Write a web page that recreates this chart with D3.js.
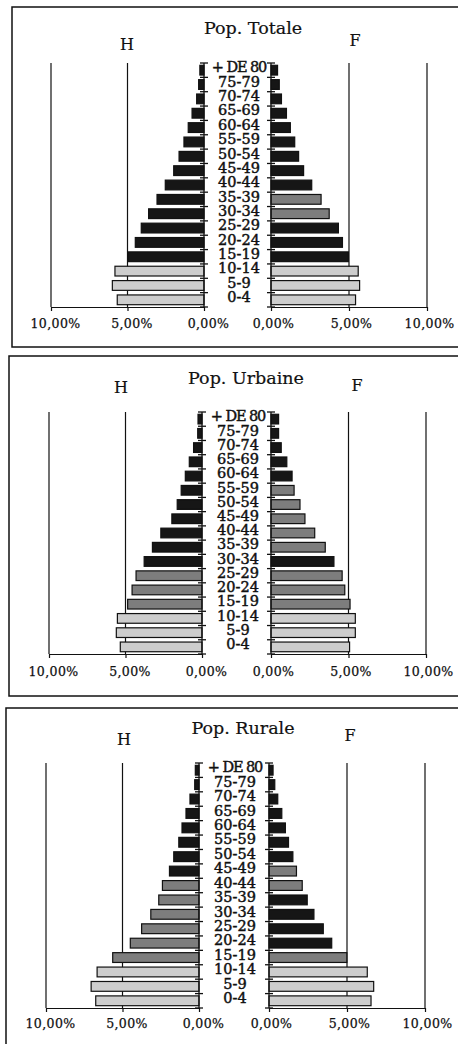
<!DOCTYPE html>
<html><head><meta charset="utf-8">
<script src="https://cdn.jsdelivr.net/npm/d3@7"></script>
<style>
html,body{margin:0;padding:0;background:#fff;}
svg{display:block;}
text{font-family:"DejaVu Serif","Liberation Serif",serif;fill:#111;}
</style></head>
<body>
<svg id="chart" width="458" height="1044"></svg>
<script>
// ---- data ----
const ages = ["+ DE 80","75-79","70-74","65-69","60-64","55-59","50-54","45-49","40-44","35-39","30-34","25-29","20-24","15-19","10-14","5-9","0-4"];
const titles = ["Pop. Totale","Pop. Urbaine","Pop. Rurale"];
const sexLabels = ["H","F"];
const tickValues = [0,5,10];

const totH = [0.27,0.35,0.48,0.78,1.03,1.31,1.63,1.98,2.53,3.07,3.62,4.10,4.49,4.97,5.82,5.99,5.67];
const totF = [0.42,0.53,0.67,0.99,1.24,1.52,1.77,2.09,2.61,3.21,3.73,4.32,4.58,4.96,5.59,5.68,5.42];
const urbH = [0.26,0.28,0.55,0.83,1.09,1.36,1.62,1.97,2.69,3.24,3.78,4.31,4.57,4.86,5.53,5.60,5.34];
const urbF = [0.49,0.49,0.66,1.02,1.36,1.49,1.87,2.19,2.82,3.50,4.06,4.59,4.76,5.10,5.44,5.44,5.07];
const rurH = [0.24,0.28,0.59,0.85,1.11,1.32,1.65,1.93,2.39,2.63,3.15,3.75,4.49,5.64,6.66,7.05,6.75];
const rurF = [0.26,0.37,0.56,0.82,1.05,1.25,1.53,1.76,2.13,2.45,2.88,3.48,4.02,4.99,6.30,6.71,6.54];

// shade class of each bar as printed (0 = dark, 1 = medium, 2 = light)
const totHShade = [0,0,0,0,0,0,0,0,0,0,0,0,0,0,2,2,2];
const totFShade = [0,0,0,0,0,0,0,0,0,1,1,0,0,0,2,2,2];
const urbHShade = [0,0,0,0,0,0,0,0,0,0,0,1,1,1,2,2,2];
const urbFShade = [0,0,0,0,0,1,1,1,1,1,0,1,1,1,2,2,2];
const rurHShade = [0,0,0,0,0,0,0,0,1,1,1,1,1,1,2,2,2];
const rurFShade = [0,0,0,0,0,0,0,1,1,0,0,0,0,1,2,2,2];

// ---- layout (per scanned panel) ----
const panels = [
  {title:titles[0], H:totH, F:totF, hs:totHShade, fs:totFShade,
   box:{x:12,y:7,w:460,h:340}, x10L:51, x0L:204, x0R:271, x10R:427, top:63, axisY:307,
   titleX:253, titleY:34, hX:127, hY:50, fX:355, fY:46, ageX:239, tickY:328},
  {title:titles[1], H:urbH, F:urbF, hs:urbHShade, fs:urbFShade,
   box:{x:9,y:356,w:460,h:340}, x10L:49, x0L:202, x0R:271, x10R:426, top:412, axisY:654,
   titleX:246, titleY:384, hX:121, hY:393, fX:357, fY:391, ageX:238, tickY:675.5},
  {title:titles[2], H:rurH, F:rurF, hs:rurHShade, fs:rurFShade,
   box:{x:6,y:708,w:460,h:345}, x10L:46, x0L:199, x0R:269, x10R:425, top:763, axisY:1008,
   titleX:243, titleY:734, hX:124, hY:745, fX:350, fY:741, ageX:235, tickY:1028}
];

const shadeColor = d3.scaleOrdinal().domain([0,1,2]).range(["#161616","#7d7d7d","#cdcdcd"]);
const loc = d3.formatLocale({decimal:",", thousands:".", grouping:[3], currency:["","€"]});
const fmt = v => loc.format(".2f")(v) + "%";

const svg = d3.select("#chart");

panels.forEach(p => {
  const g = svg.append("g");
  g.append("rect").attr("x",p.box.x).attr("y",p.box.y).attr("width",p.box.w).attr("height",p.box.h)
    .attr("fill","none").attr("stroke","#111").attr("stroke-width",1.5);

  const y = d3.scaleBand().domain(ages).range([p.top,p.axisY]).paddingInner(0.32).paddingOuter(0.16);
  const step = (p.axisY - p.top) / ages.length;
  const xL = d3.scaleLinear().domain([0,10]).range([p.x0L,p.x10L]);
  const xR = d3.scaleLinear().domain([0,10]).range([p.x0R,p.x10R]);

  // grid lines
  [xL,xR].forEach(sc => {
    g.selectAll(null).data(tickValues.filter(v=>v>0)).enter().append("line")
      .attr("x1",d=>sc(d)).attr("x2",d=>sc(d)).attr("y1",p.top).attr("y2",p.axisY)
      .attr("stroke","#111").attr("stroke-width",1.2);
  });

  // bars
  g.selectAll(null).data(ages).enter().append("rect")
    .attr("x",(d,i)=>xL(p.H[i])).attr("width",(d,i)=>xL(0)-xL(p.H[i]))
    .attr("y",d=>y(d)).attr("height",y.bandwidth())
    .attr("fill",(d,i)=>shadeColor(p.hs[i])).attr("stroke","#111").attr("stroke-width",1.2);
  g.selectAll(null).data(ages).enter().append("rect")
    .attr("x",xR(0)).attr("width",(d,i)=>xR(p.F[i])-xR(0))
    .attr("y",d=>y(d)).attr("height",y.bandwidth())
    .attr("fill",(d,i)=>shadeColor(p.fs[i])).attr("stroke","#111").attr("stroke-width",1.2);

  // x axes
  const axL = d3.axisBottom(xL).tickValues(tickValues).tickFormat(fmt).tickSize(4).tickSizeOuter(0);
  const axR = d3.axisBottom(xR).tickValues(tickValues).tickFormat(fmt).tickSize(4).tickSizeOuter(0);
  [[axL,4],[axR,2]].forEach(([ax,off]) => {
    const a = g.append("g").attr("transform",`translate(0,${p.axisY})`).call(ax);
    a.select(".domain").attr("stroke","#111").attr("stroke-width",1.2);
    a.selectAll(".tick line").attr("stroke","#111").attr("stroke-width",1.2);
    a.selectAll(".tick text").attr("y",null).attr("dy",null)
      .attr("transform",`translate(${off},${p.tickY - p.axisY})`)
      .attr("font-family","'DejaVu Serif',serif").attr("font-size",12.5).attr("fill","#111")
      .attr("stroke","#111").attr("stroke-width",0.25).attr("letter-spacing",0.4);
  });

  // zero axes with category-boundary ticks
  [p.x0L,p.x0R].forEach(x0 => {
    g.append("line").attr("x1",x0).attr("x2",x0).attr("y1",p.top).attr("y2",p.axisY)
      .attr("stroke","#111").attr("stroke-width",1.3);
    g.selectAll(null).data(d3.range(ages.length+1)).enter().append("line")
      .attr("x1",x0-4).attr("x2",x0+4)
      .attr("y1",i=>p.top+i*step).attr("y2",i=>p.top+i*step)
      .attr("stroke","#111").attr("stroke-width",1.3);
  });

  // age labels
  g.selectAll(null).data(ages).enter().append("text")
    .attr("x",p.ageX).attr("y",d=>y(d)+y.bandwidth()/2 - 3).attr("dy","0.36em")
    .attr("text-anchor","middle").attr("font-size",14.5)
    .attr("letter-spacing",d=>d.length > 5 ? -1.1 : 0)
    .attr("stroke","#111").attr("stroke-width",0.45).text(d=>d);

  // titles
  g.append("text").attr("x",p.titleX).attr("y",p.titleY).attr("text-anchor","middle")
    .attr("font-size",17.5).attr("stroke","#111").attr("stroke-width",0.2).text(p.title);
  g.append("text").attr("x",p.hX).attr("y",p.hY).attr("text-anchor","middle")
    .attr("font-size",16).attr("stroke","#111").attr("stroke-width",0.2).text(sexLabels[0]);
  g.append("text").attr("x",p.fX).attr("y",p.fY).attr("text-anchor","middle")
    .attr("font-size",16).attr("stroke","#111").attr("stroke-width",0.2).text(sexLabels[1]);
});
</script>
</body></html>
